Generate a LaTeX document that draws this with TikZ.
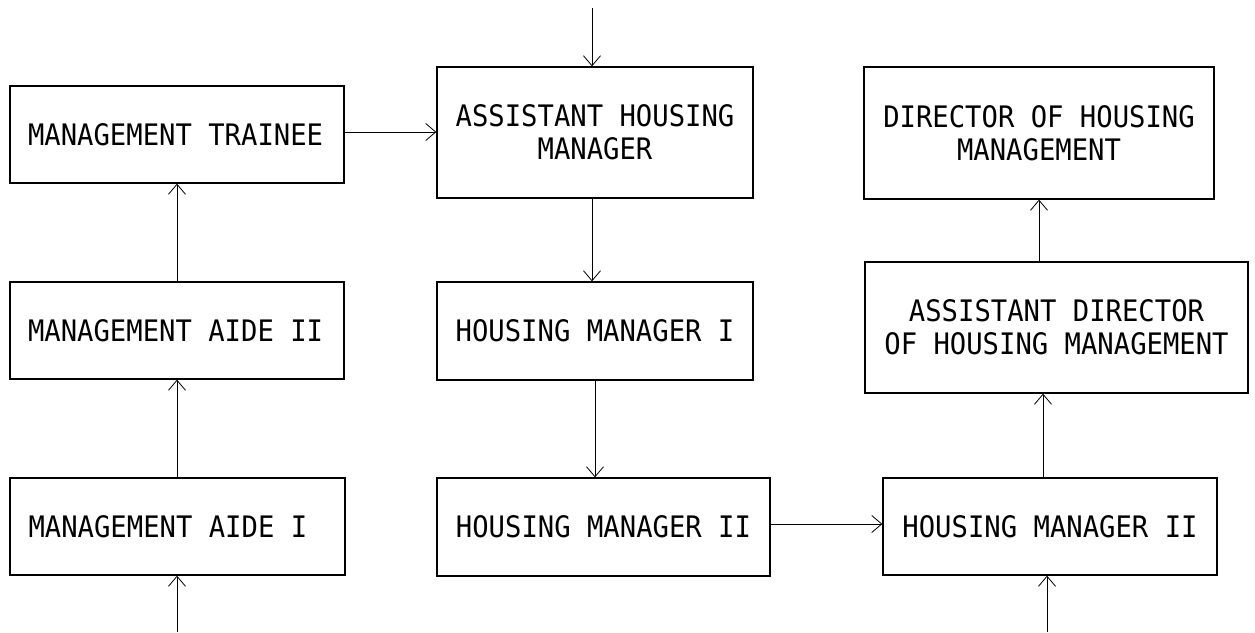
\documentclass[tikz,border=0pt]{standalone}
\usepackage{fontspec}
\setmainfont[FakeStretch=0.92]{DejaVu Sans Mono}
\usetikzlibrary{arrows.meta}
\newcommand{\lefttext}[1]{\makebox[298pt][l]{#1}}
\begin{document}
\begin{tikzpicture}[x=1pt,y=-1pt,
  box/.style={draw, line width=1.3pt, inner sep=0pt, font=\fontsize{29.6}{33}\selectfont, align=center},
  conn/.style={line width=0.9pt, -{Straight Barb[length=10pt,width=17pt,line width=0.8pt]}}]
\useasboundingbox (0,0) rectangle (1255,632);
% left column
\node[box, minimum width=334pt, minimum height=97pt] (mt)  at (177,134.5) {\lefttext{MANAGEMENT TRAINEE}};
\node[box, minimum width=334pt, minimum height=97pt] (ma2) at (177,330.5) {\lefttext{MANAGEMENT AIDE II}};
\node[box, minimum width=335pt, minimum height=97pt] (ma1) at (177.5,526.5) {\lefttext{MANAGEMENT AIDE I}};
% middle column
\node[box, minimum width=316pt, minimum height=131pt] (ahm) at (595,132.5) {ASSISTANT HOUSING\\MANAGER};
\node[box, minimum width=316pt, minimum height=98pt] (hm1) at (595,331) {HOUSING MANAGER I};
\node[box, minimum width=333pt, minimum height=98pt] (hm2) at (603.5,527) {HOUSING MANAGER II};
% right column
\node[box, minimum width=350pt, minimum height=132pt] (dir) at (1039,133) {DIRECTOR OF HOUSING\\MANAGEMENT};
\node[box, minimum width=383pt, minimum height=131pt] (ad)  at (1056.5,327.5) {ASSISTANT DIRECTOR\\OF HOUSING MANAGEMENT};
\node[box, minimum width=334pt, minimum height=97pt] (hm2r) at (1050,526.5) {HOUSING MANAGER II};
% free ends
\coordinate (intop) at (592,8);
\coordinate (inleft) at (177,632);
\coordinate (inright) at (1047,632);
% connectors
\draw[conn] (intop) -- (intop |- ahm.north);
\draw[conn] (mt.east |- 0,132) -- (ahm.west |- 0,132);
\draw[conn] (ahm.south -| 592,0) -- (hm1.north -| 592,0);
\draw[conn] (hm1.south) -- (hm1.south |- hm2.north);
\draw[conn] (hm2.east |- 0,524) -- (hm2r.west |- 0,524);
\draw[conn] (inleft) -- (inleft |- ma1.south);
\draw[conn] (ma1.north -| 177,0) -- (ma2.south -| 177,0);
\draw[conn] (ma2.north -| 177,0) -- (mt.south -| 177,0);
\draw[conn] (inright) -- (inright |- hm2r.south);
\draw[conn] (hm2r.north -| 1043,0) -- (ad.south -| 1043,0);
\draw[conn] (ad.north -| 1039,0) -- (dir.south -| 1039,0);
\end{tikzpicture}
\end{document}
